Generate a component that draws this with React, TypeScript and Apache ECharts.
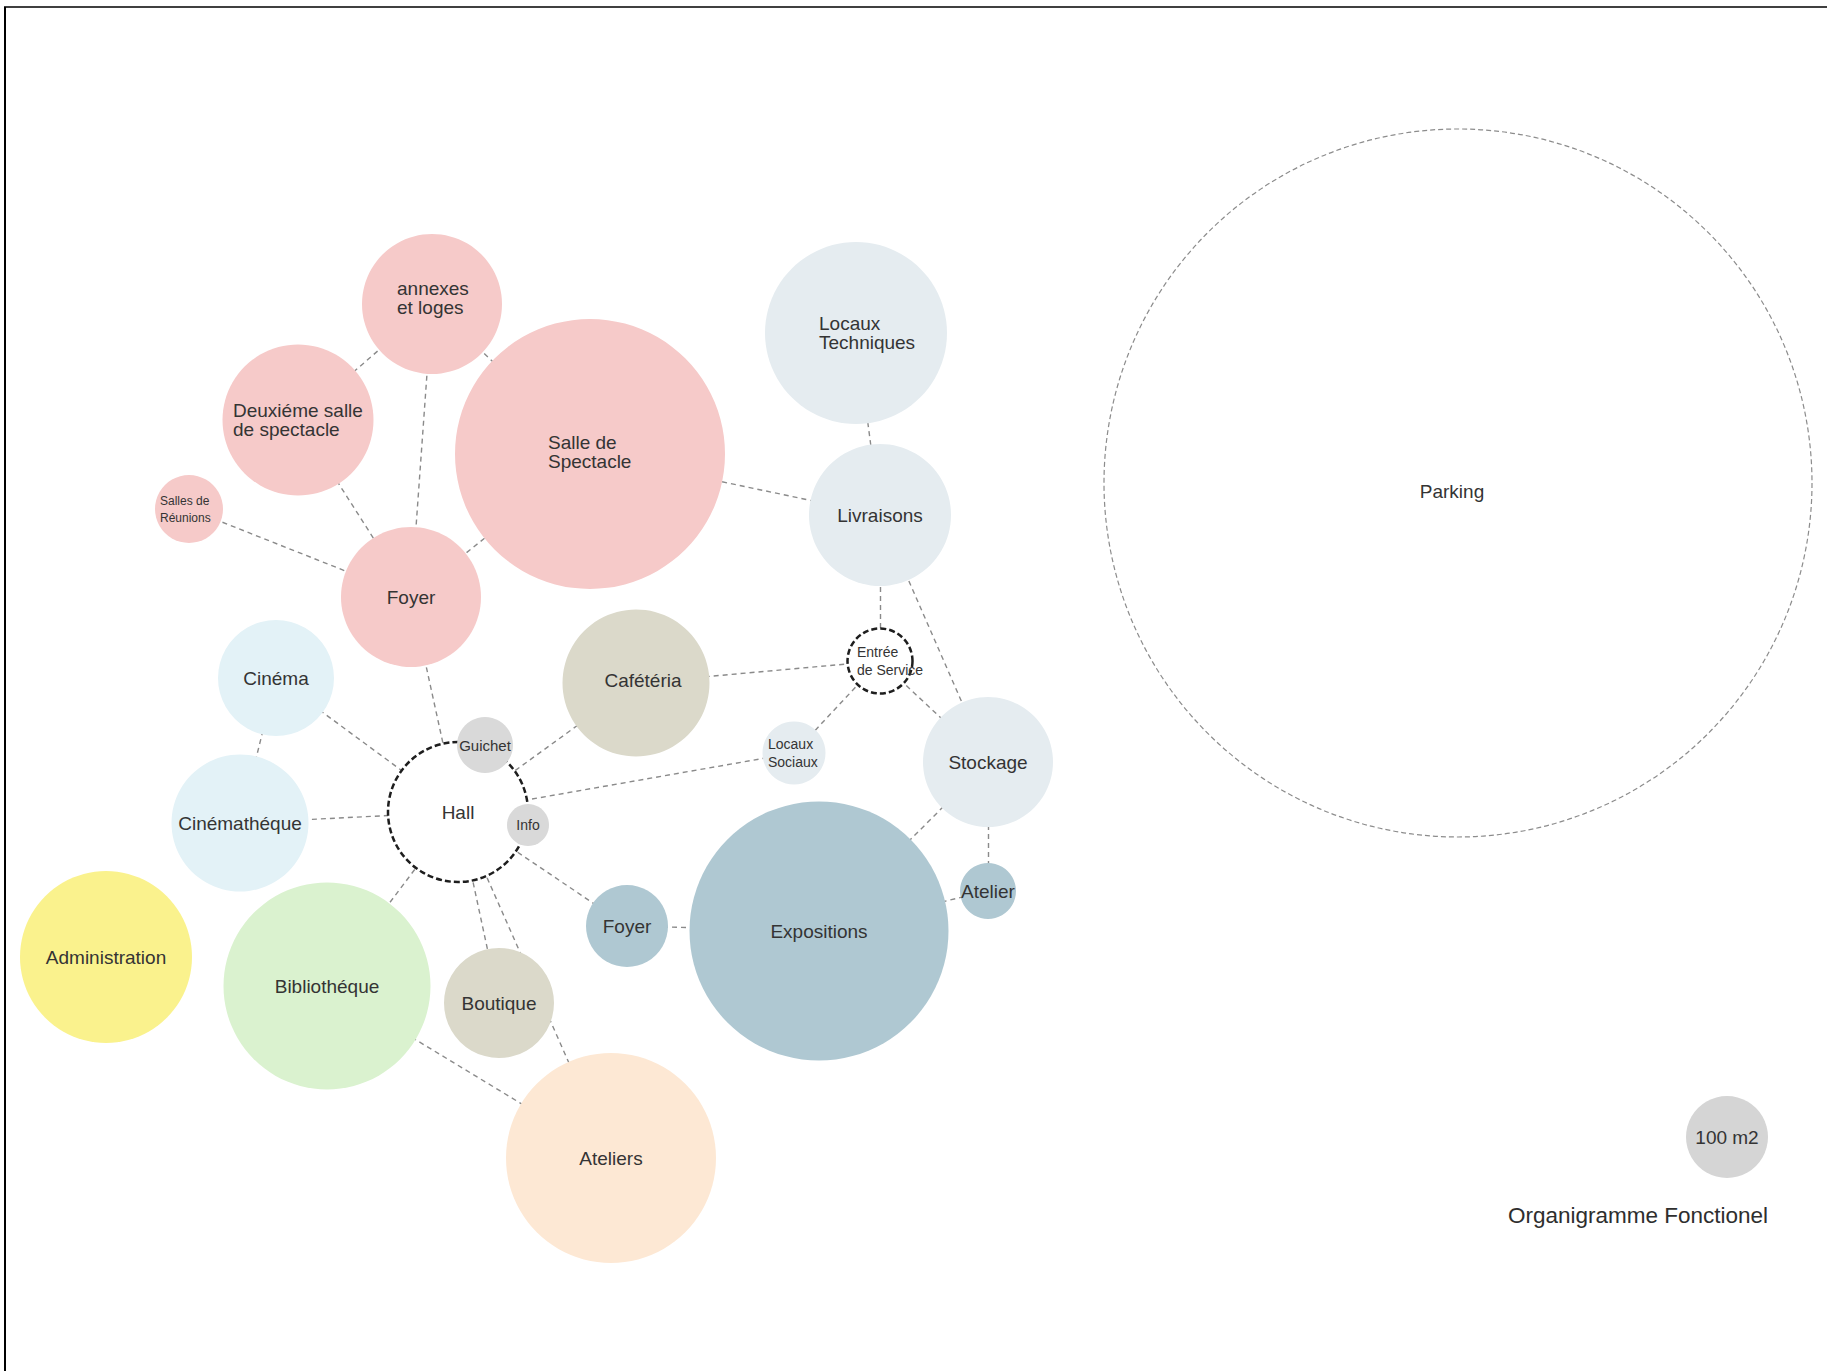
import React, { useEffect, useRef } from "react";
import * as echarts from "echarts";

// ---- data ----
const nodeKeys = [
  "annexes", "deuxieme", "salle", "reunions", "foyerRose",
  "locTech", "livraisons", "entree", "cafeteria", "cinema",
  "cinematheque", "hall", "guichet", "info", "locSociaux",
  "stockage", "administration", "bibliotheque", "boutique", "foyerBleu",
  "expositions", "atelier", "ateliers", "parking", "legend",
];
const nodeLabels = [
  "annexes\net loges", "Deuxiéme salle\nde spectacle", "Salle de\nSpectacle", "Salles de\nRéunions", "Foyer",
  "Locaux\nTechniques", "Livraisons", "Entrée\nde Service", "Cafétéria", "Cinéma",
  "Cinémathéque", "Hall", "Guichet", "Info", "Locaux\nSociaux",
  "Stockage", "Administration", "Bibliothéque", "Boutique", "Foyer",
  "Expositions", "Atelier", "Ateliers", "Parking", "100 m2",
];
const nodeX = [
  432, 298, 590, 189, 411,
  856, 880, 880, 636, 276,
  240, 458, 485, 528, 794,
  988, 106, 327, 499, 627,
  819, 988, 611, 1458, 1727,
];
const nodeY = [
  304, 420, 454, 509, 597,
  333, 515, 661, 683, 678,
  823, 812, 745, 825, 753,
  762, 957, 986, 1003, 926,
  931, 891, 1158, 483, 1137,
];
// diameters in pixels (bubble area ~ surface)
const nodeSize = [
  140, 151, 270, 68, 140,
  182, 142, 65, 147, 116,
  137, 140, 56, 42, 63,
  130, 172, 207, 110, 82,
  259, 56, 210, 708, 82,
];
const nodeGroup = [
  "rose", "rose", "rose", "rose", "rose",
  "service", "service", "entry", "beige", "cine",
  "cine", "entry", "grey", "grey", "service",
  "service", "yellow", "green", "beige", "blue",
  "blue", "blue", "peach", "parking", "grey2",
];
const linkPairs: [string, string][] = [
  ["annexes", "deuxieme"], ["annexes", "salle"], ["annexes", "foyerRose"],
  ["deuxieme", "foyerRose"], ["reunions", "foyerRose"], ["salle", "foyerRose"],
  ["salle", "livraisons"], ["locTech", "livraisons"], ["livraisons", "entree"],
  ["livraisons", "stockage"], ["entree", "cafeteria"], ["entree", "locSociaux"],
  ["entree", "stockage"], ["foyerRose", "hall"], ["cinema", "hall"],
  ["cinema", "cinematheque"], ["cinematheque", "hall"], ["cafeteria", "hall"],
  ["locSociaux", "hall"], ["hall", "bibliotheque"], ["hall", "boutique"],
  ["hall", "ateliers"], ["hall", "foyerBleu"], ["foyerBleu", "expositions"],
  ["expositions", "stockage"], ["expositions", "atelier"], ["stockage", "atelier"],
  ["bibliotheque", "ateliers"],
];
const titleText = "Organigramme Fonctionel";

// ---- styles ----
const groupColor: Record<string, string> = {
  rose: "#f6cac9",
  service: "#e5ecf0",
  entry: "#ffffff",
  beige: "#dbd9ca",
  cine: "#e3f2f7",
  grey: "#d9d9d9",
  grey2: "#d5d5d5",
  yellow: "#faf28d",
  green: "#daf2cf",
  blue: "#afc8d2",
  peach: "#fde8d4",
  parking: "rgba(255,255,255,0)",
};
// label tweaks: [dx, dy, fontSize, align, lineHeight]
const labelStyle: Record<string, [number, number, number, string, number]> = {
  annexes: [-35, -6, 19, "left", 19],
  deuxieme: [-65, 0, 19, "left", 19],
  salle: [-42, -2, 19, "left", 19],
  reunions: [-29, 0, 12, "left", 17],
  locTech: [-37, 0, 19, "left", 19],
  entree: [-23, 0, 14, "left", 18],
  locSociaux: [-26, 0, 14, "left", 18],
  guichet: [0, 0, 15, "center", 16],
  info: [0, 0, 14, "center", 16],
  cafeteria: [7, -3, 19, "center", 19],
  parking: [-6, 8, 19, "center", 19],
};

const FONT = '"Liberation Sans", Arial, Helvetica, sans-serif';

export default function App() {
  const ref = useRef<HTMLDivElement>(null);
  useEffect(() => {
    if (!ref.current) return;
    const chart = echarts.init(ref.current, null, { renderer: "svg" });
    const data = nodeKeys.map((k, i) => {
      const g = nodeGroup[i];
      const ls = labelStyle[k] || [0, 0, 19, "center", 19];
      const item: any = {
        name: k,
        value: [nodeX[i], nodeY[i]],
        symbolSize: nodeSize[i],
        itemStyle: { color: groupColor[g], borderWidth: 0 },
        label: {
          show: true,
          position: "inside",
          formatter: nodeLabels[i],
          fontSize: ls[2],
          lineHeight: ls[4],
          fontFamily: FONT,
          color: "#343434",
          align: ls[3],
          verticalAlign: "middle",
          offset: [ls[0], ls[1]],
        },
      };
      if (g === "entry") {
        item.itemStyle = {
          color: "#ffffff",
          borderColor: "#1e1e1e",
          borderWidth: 2.5,
          borderType: [6, 3],
        };
      }
      if (g === "parking") {
        item.itemStyle = {
          color: "rgba(255,255,255,0)",
          borderColor: "#8c8c8c",
          borderWidth: 1.2,
          borderType: [5, 3],
        };
      }
      return item;
    });
    const links = linkPairs.map(([s, t]) => ({ source: s, target: t }));

    chart.setOption({
      animation: false,
      backgroundColor: "#ffffff",
      grid: { left: 0, right: 0, top: 0, bottom: 0 },
      xAxis: { type: "value", min: 0, max: 1827, show: false },
      yAxis: { type: "value", min: 0, max: 1371, inverse: true, show: false },
      series: [
        {
          type: "graph",
          coordinateSystem: "cartesian2d",
          layout: "none",
          symbol: "circle",
          data,
          links,
          edgeSymbol: ["none", "none"],
          lineStyle: { color: "#8a8a8a", width: 1.4, type: [5, 4], opacity: 1, curveness: 0 },
          emphasis: { disabled: true },
          silent: true,
        },
      ],
      graphic: [
        {
          type: "line",
          shape: { x1: 4, y1: 7, x2: 1827, y2: 7 },
          style: { stroke: "#000000", lineWidth: 1.6 },
        },
        {
          type: "line",
          shape: { x1: 5, y1: 7, x2: 5, y2: 1371 },
          style: { stroke: "#000000", lineWidth: 2 },
        },
        {
          type: "text",
          x: 1638,
          y: 1215,
          style: {
            text: titleText,
            fontSize: 22.5,
            fontFamily: FONT,
            fill: "#2e2e2e",
            textAlign: "center",
            textVerticalAlign: "middle",
          },
        },
      ],
    });
    return () => chart.dispose();
  }, []);
  return (
    <div
      ref={ref}
      style={{ position: "fixed", left: 0, top: 0, width: 1827, height: 1371 }}
    />
  );
}
